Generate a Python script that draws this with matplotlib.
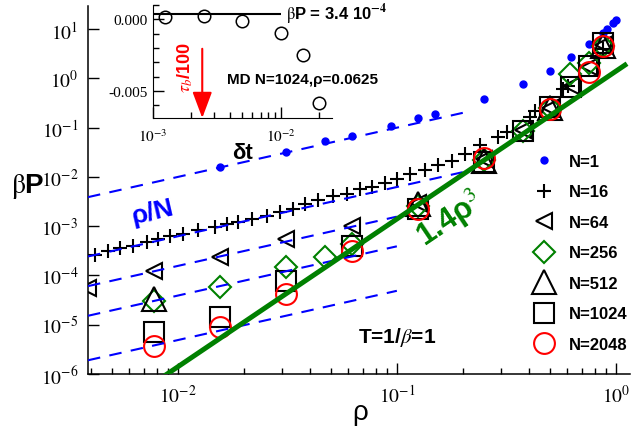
import matplotlib
matplotlib.use('Agg')
import matplotlib.pyplot as plt
import numpy as np
from matplotlib.ticker import (FuncFormatter, FixedLocator, LogLocator, MultipleLocator,
                               NullLocator, NullFormatter)

plt.rcParams['font.family'] = ['Liberation Sans', 'DejaVu Sans']
plt.rcParams['mathtext.fontset'] = 'stix'
plt.rcParams['axes.unicode_minus'] = False

# main panel: beta*P vs rho for several N
rho_1 = [0.0156, 0.0312, 0.0469, 0.0625, 0.0938, 0.125, 0.15, 0.25, 0.375, 0.5, 0.625, 0.75, 0.875, 0.91, 0.97, 1.0]
P_1 = [0.0156, 0.0323, 0.054, 0.068, 0.109, 0.154, 0.188, 0.391, 0.762, 1.42, 2.75, 4.94, 8.3, 9.9, 13.5, 15.2]

rho_16 = [0.00418, 0.00479, 0.00543, 0.00623, 0.00722, 0.0081, 0.00919, 0.01054, 0.01234, 0.01475,
          0.01675, 0.0188, 0.02178, 0.02548, 0.02922, 0.03351, 0.03802, 0.04357, 0.051, 0.0591,
          0.06776, 0.0769, 0.08814, 0.1, 0.1146, 0.1342, 0.1539, 0.1782, 0.2045, 0.2395,
          0.289, 0.318, 0.405, 0.427, 0.573, 0.604, 0.87]
P_16 = [2.59e-4, 3.17e-4, 3.65e-4, 4.0e-4, 4.69e-4, 5.47e-4, 6.21e-4, 6.92e-4, 8.34e-4, 9.73e-4,
        1.10e-3, 1.23e-3, 1.39e-3, 1.63e-3, 1.91e-3, 2.22e-3, 2.81e-3, 3.38e-3, 4.02e-3, 4.48e-3,
        5.66e-3, 6.12e-3, 7.38e-3, 9.01e-3, 0.0114, 0.0139, 0.0173, 0.0212, 0.029, 0.0442,
        0.0641, 0.0811, 0.163, 0.216, 0.604, 0.695, 3.9]

rho_64 = [0.0039, 0.0078, 0.0156, 0.0312, 0.0625, 0.125, 0.25, 0.375, 0.5, 0.625, 0.75, 0.875]
P_64 = [5.5e-5, 1.24e-4, 2.33e-4, 5.47e-4, 9.9e-4, 3.0e-3, 0.023, 0.088, 0.25, 0.7, 1.7, 4.8]

rho_256 = [0.0078, 0.0156, 0.0312, 0.0469, 0.0625, 0.125, 0.25, 0.375, 0.5, 0.62, 0.75, 0.875]
P_256 = [3.07e-5, 5.7e-5, 1.46e-4, 2.33e-4, 4.3e-4, 2.6e-3, 0.022, 0.085, 0.25, 1.25, 2.1, 4.6]

rho_512 = [0.0078, 0.125, 0.25, 0.5, 0.875]
P_512 = [3.3e-5, 2.8e-3, 0.021, 0.25, 4.6]

rho_1024 = [0.0078, 0.0156, 0.0312, 0.0625, 0.125, 0.25, 0.375, 0.5, 0.625, 0.75, 0.875]
P_1024 = [7.0e-6, 1.45e-5, 7.8e-5, 3.9e-4, 2.2e-3, 0.0197, 0.086, 0.257, 0.654, 1.8, 5.3]

rho_2048 = [0.0078, 0.0156, 0.0312, 0.0625, 0.125, 0.25, 0.5, 0.75, 0.875]
P_2048 = [3.75e-6, 9.1e-6, 4.3e-5, 3.17e-4, 2.2e-3, 0.024, 0.237, 1.32, 4.56]

# ideal gas lines rho/N and where they stop
ideal_N = [1, 16, 64, 256, 2048]
ideal_end = [0.2, 0.2, 0.1, 0.1, 0.1]

# inset: MD time step test
dt = [1.25e-3, 2.5e-3, 5e-3, 1e-2, 1.5e-2, 2e-2]
P_dt = [1.5e-4, 2e-4, -1.3e-4, -9.7e-4, -2.48e-3, -5.84e-3]
P_ref = 3.4e-4
tau_b = 2.43e-3

W, H = 631, 431


def px(x, y):
    return x / W, 1 - y / H


def log_label(v, pos):
    return r'$\mathrm{10^{%d}}$' % int(round(np.log10(v)))


fig = plt.figure(figsize=(W / 100, H / 100), dpi=100)
ax = fig.add_axes([88 / W, 56 / H, 542 / W, 368 / H])
ax.set_xscale('log')
ax.set_yscale('log')
xlo = 0.00389
ax.set_xlim(xlo, 1.16)
ax.set_ylim(1e-6, 29.5)

for N, end in zip(ideal_N, ideal_end):
    r = np.array([xlo, end])
    ax.plot(r, r / N, color='blue', lw=1.5, dashes=(6, 4.5), zorder=4)

r = np.array([0.005, 1.1])
ax.plot(r, 1.4 * r ** 3, color='green', lw=3.6, zorder=5)

ax.plot(rho_1, P_1, 'o', color='blue', ms=5, label='N=1', zorder=3)
ax.plot(rho_16, P_16, '+', color='black', ms=10, mew=1.5, label='N=16', zorder=3)
ax.plot(rho_64, P_64, '<', mfc='none', mec='black', ms=11, mew=1.5, label='N=64', zorder=3)
ax.plot(rho_256, P_256, 'D', mfc='none', mec='green', ms=11.5, mew=1.5, label='N=256', zorder=3)
ax.plot(rho_512, P_512, '^', mfc='none', mec='black', ms=17, mew=1.5, label='N=512', zorder=3)
ax.plot(rho_1024, P_1024, 's', mfc='none', mec='black', ms=14, mew=1.5, label='N=1024', zorder=3)
ax.plot(rho_2048, P_2048, 'o', mfc='none', mec='red', ms=15, mew=1.5, label='N=2048', zorder=3)

ax.legend(loc='upper left', bbox_to_anchor=px(536, 155), bbox_transform=fig.transFigure,
          frameon=False, prop={'weight': 'bold', 'size': 12},
          handlelength=1.0, handletextpad=1.0, labelspacing=0.93, borderpad=0, borderaxespad=0,
          numpoints=1)

for s in ['top', 'right']:
    ax.spines[s].set_visible(False)
for s in ['left', 'bottom']:
    ax.spines[s].set_linewidth(1.1)
ax.xaxis.set_major_locator(FixedLocator([1e-2, 1e-1, 1e0]))
ax.yaxis.set_major_locator(FixedLocator([1e-6, 1e-5, 1e-4, 1e-3, 1e-2, 1e-1, 1e0, 1e1]))
ax.xaxis.set_minor_locator(LogLocator(base=10, subs=np.arange(2, 10), numticks=20))
ax.yaxis.set_minor_locator(NullLocator())
ax.xaxis.set_major_formatter(FuncFormatter(log_label))
ax.yaxis.set_major_formatter(FuncFormatter(log_label))
ax.xaxis.set_minor_formatter(NullFormatter())
ax.tick_params(which='major', direction='in', length=8, width=1, labelsize=14, pad=7,
               top=False, right=False)
ax.tick_params(which='minor', direction='in', length=4.5, width=1, top=False, right=False)

fig.text(*px(360, 413), 'ρ', fontsize=20, ha='center', va='center')
fig.text(*px(28, 187), r'$\mathrm{\beta}$P', fontsize=20, fontweight='bold', ha='center', va='center')
fig.text(*px(153, 213), 'ρ/N', fontsize=19, fontweight='bold', color='blue',
         ha='center', va='center', rotation=13)
fig.text(*px(450, 220), r'1.4ρ$^{3}$', fontsize=22, fontweight='bold', color='green',
         ha='center', va='center', rotation=34)
fig.text(*px(397, 338), r'T=1/$\beta$=1', fontsize=15, fontweight='bold',
         ha='center', va='center')

# inset
ins = fig.add_axes([153 / W, (H - 119) / H, 179 / W, 113 / H])
ins.set_xscale('log')
ins.set_xlim(1e-3, 0.0252)
ins.set_ylim(-0.0069, 0.001)
ins.hlines(P_ref, 1e-3, 1e-2, color='black', lw=1.5)
ins.plot(dt, P_dt, 'o', mfc='none', mec='black', ms=9, mew=1.1)
ins.annotate('', xy=(tau_b, -0.0069), xytext=(tau_b, -0.00206),
             arrowprops=dict(arrowstyle='-|>,head_length=0.8,head_width=0.3', color='red',
                             lw=1.5, mutation_scale=20, shrinkA=0, shrinkB=0))
ins.text(1.79e-3, -0.0033, r'$\tau_b$/100', color='red', fontsize=13, fontweight='bold',
         rotation=90, ha='center', va='center')
ins.text(3.83e-3, -0.00416, 'MD N=1024,ρ=0.0625', fontsize=11, fontweight='bold',
         ha='left', va='center')
ins.text(1.09e-2, 3.85e-4, r'$\mathrm{\beta}$P = 3.4 10$^{\mathbf{-4}}$', fontsize=12,
         fontweight='bold', ha='left', va='center')

ins.patch.set_alpha(0)
for s in ['top', 'right']:
    ins.spines[s].set_visible(False)
ins.yaxis.set_major_locator(FixedLocator([-0.005, 0.0]))
ins.yaxis.set_minor_locator(MultipleLocator(0.001))
ins.yaxis.set_major_formatter(FuncFormatter(lambda v, p: '%.3f' % v))
ins.xaxis.set_major_locator(FixedLocator([1e-3, 1e-2]))
ins.xaxis.set_minor_locator(LogLocator(base=10, subs=np.arange(2, 10), numticks=10))
ins.xaxis.set_major_formatter(FuncFormatter(log_label))
ins.xaxis.set_minor_formatter(NullFormatter())
ins.tick_params(which='major', direction='in', length=8, width=1, labelsize=11,
                labelfontfamily='Liberation Serif', top=False, right=False)
ins.tick_params(axis='y', which='major', pad=4)
ins.tick_params(axis='x', which='major', pad=7)
ins.tick_params(which='minor', direction='in', length=4.5, width=1, top=False, right=False)
ins.set_xlabel('δt', fontsize=16, fontweight='bold', labelpad=-2)

fig.savefig('out.png', dpi=100)
